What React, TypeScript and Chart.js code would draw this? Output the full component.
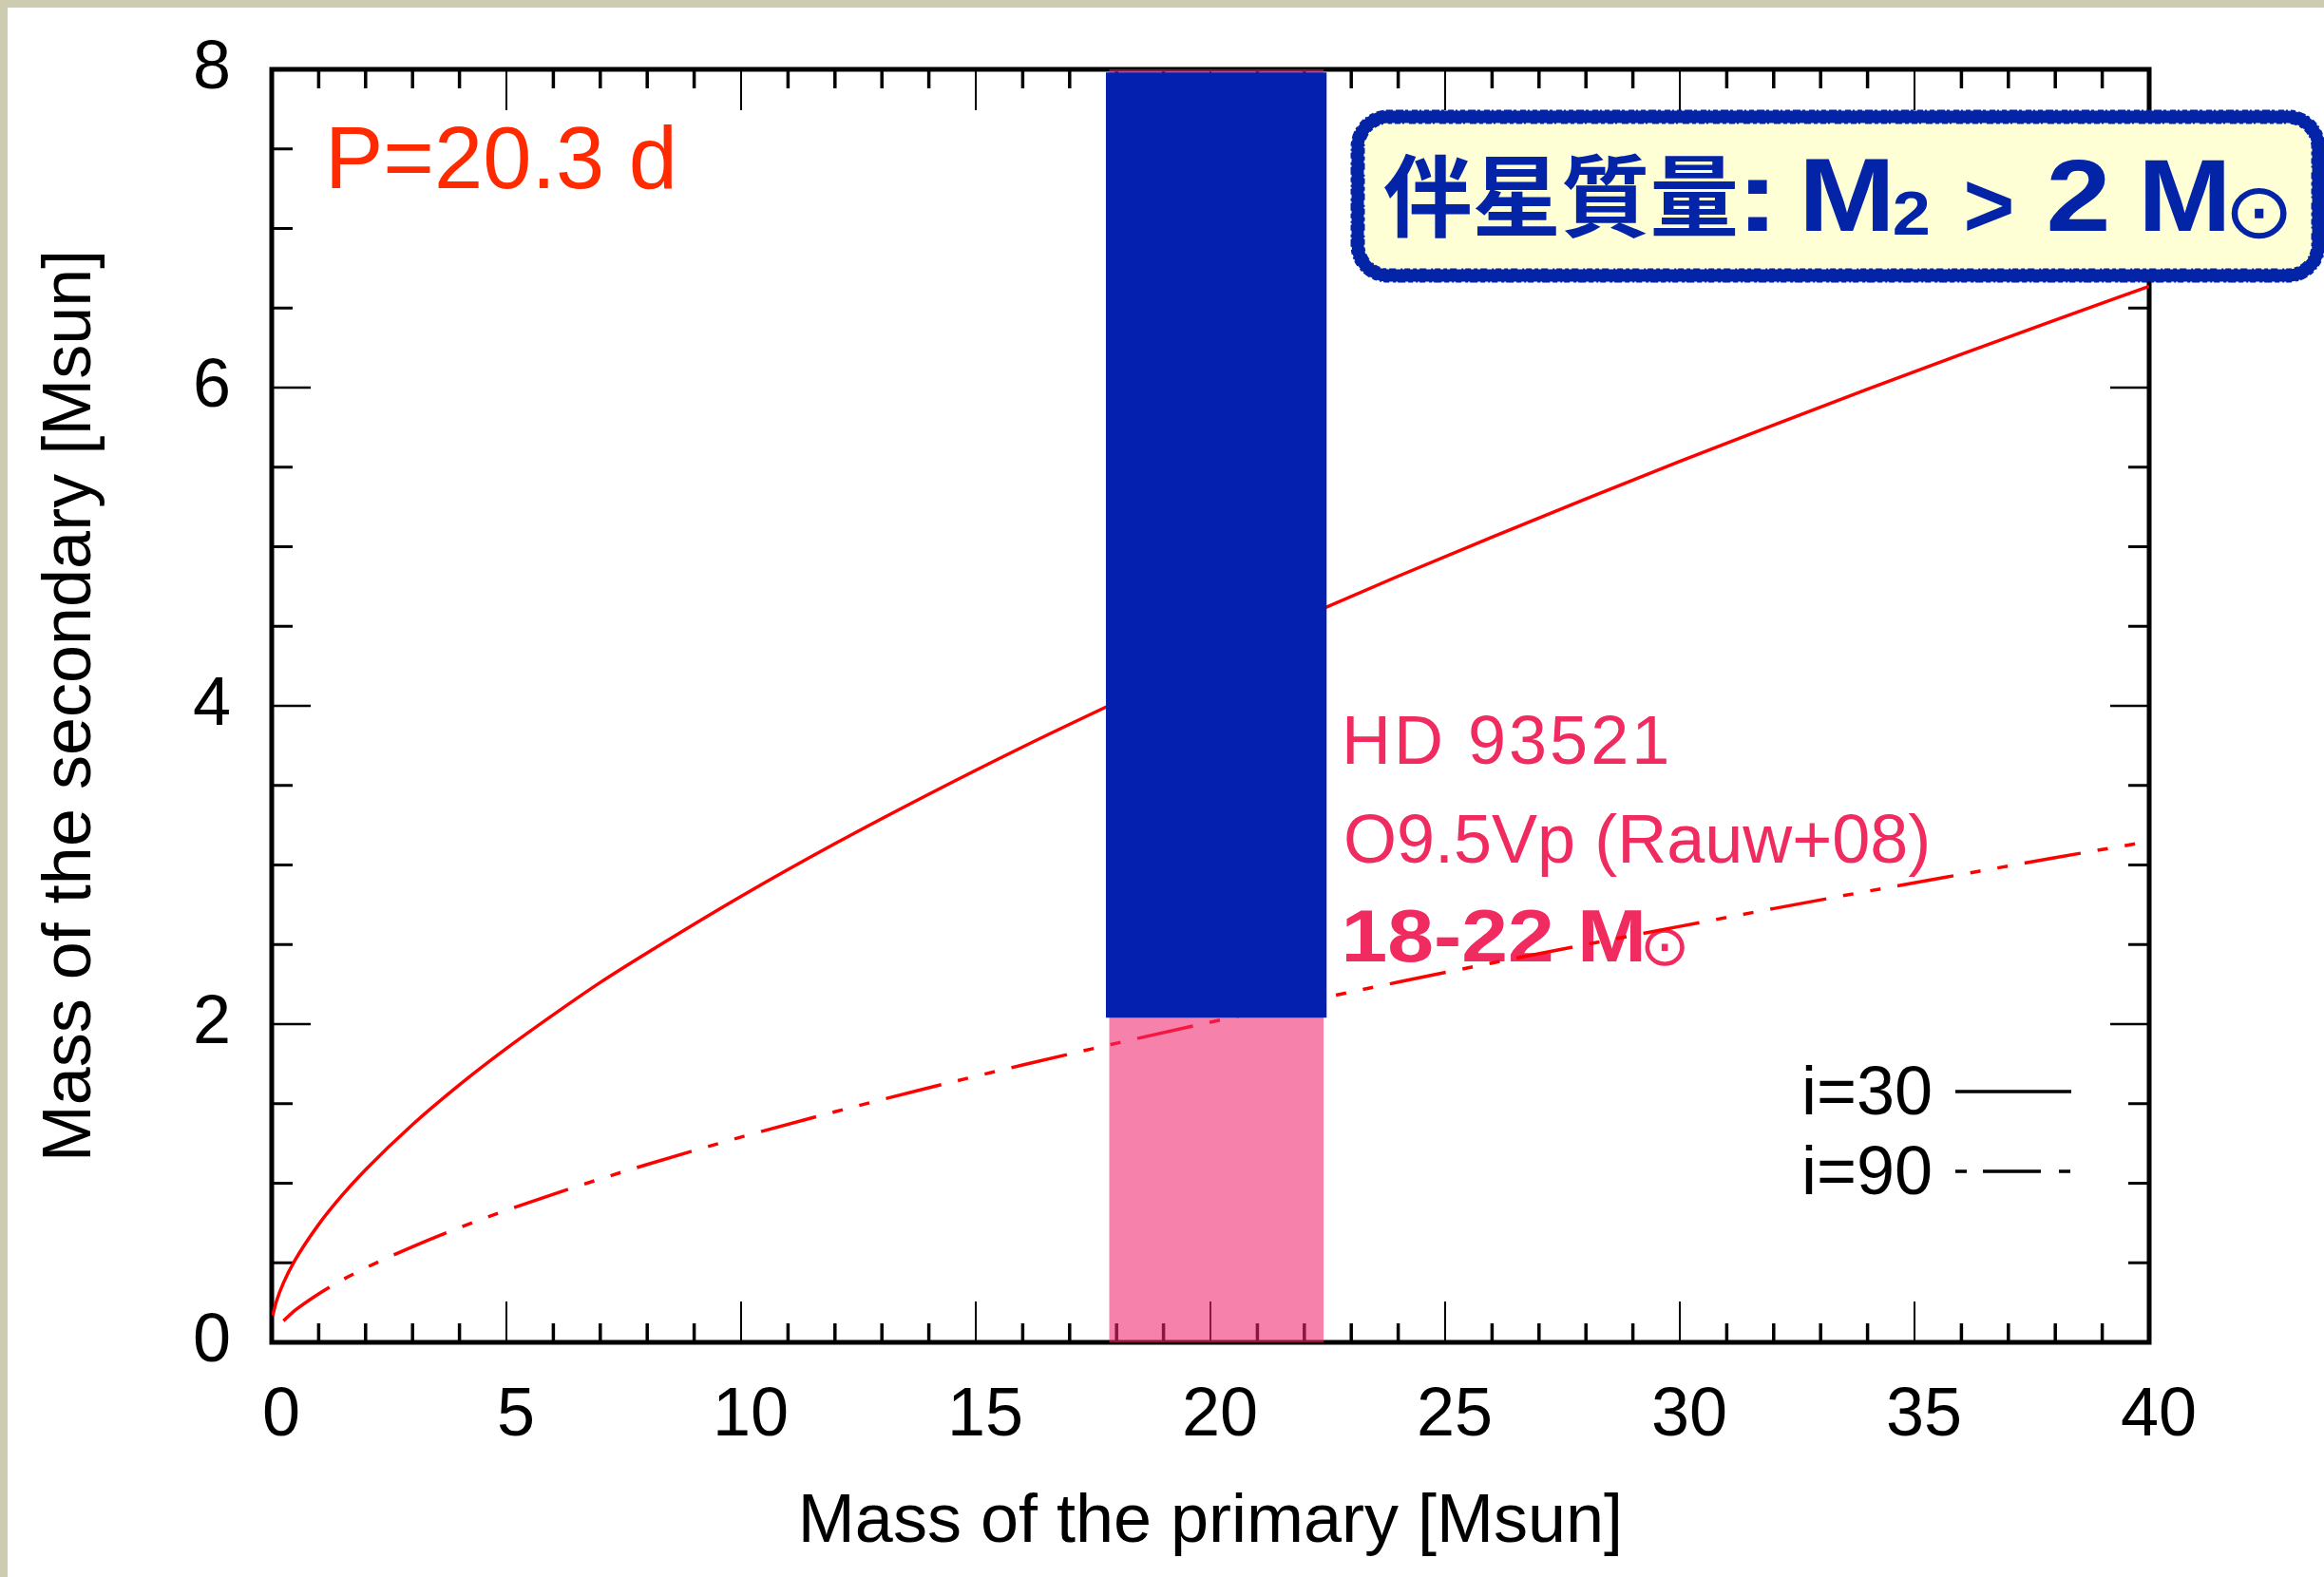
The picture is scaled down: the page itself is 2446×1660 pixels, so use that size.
import React, { useEffect, useRef } from "react";
import { Chart, registerables } from "chart.js";

Chart.register(...registerables);

// ---------- data ----------
const X_TICKS = [0, 5, 10, 15, 20, 25, 30, 35, 40];
const Y_TICKS = [0, 2, 4, 6, 8];

// primary mass [Msun] and secondary mass for i = 30 deg (solid)
const M1_I30 = [0.02, 0.1, 0.25, 0.5, 1, 1.5, 2, 3, 4, 5, 6, 7, 8, 10, 12, 14, 16, 18, 20, 22, 24, 26, 28, 30, 32, 34, 36, 38, 40];
const M2_I30 = [0.168, 0.258, 0.374, 0.518, 0.741, 0.924, 1.085, 1.369, 1.619, 1.847, 2.059, 2.262, 2.448, 2.803, 3.134, 3.445, 3.742, 4.024, 4.298, 4.56, 4.815, 5.061, 5.301, 5.536, 5.765, 5.99, 6.21, 6.425, 6.636];

// primary mass and secondary mass for i = 90 deg (dash-dot-dot)
const M1_I90 = [0.25, 0.5, 1, 1.5, 2, 3, 4, 5, 6, 7, 8, 10, 12, 14, 16, 18, 20, 22, 24, 26, 28, 30, 32, 34, 36, 38, 40];
const M2_I90 = [0.135, 0.202, 0.305, 0.392, 0.468, 0.601, 0.721, 0.83, 0.931, 1.027, 1.118, 1.29, 1.449, 1.6, 1.743, 1.88, 2.012, 2.14, 2.264, 2.384, 2.5, 2.614, 2.726, 2.835, 2.941, 3.046, 3.148];

// HD 93521 primary mass band (pink) and allowed secondary region (blue)
const PINK_X = [17.84, 22.41];
const PINK_Y = [0, 8];
const BLUE_X = [17.77, 22.48];
const BLUE_Y = [2.04, 7.98];

const SERIES_LABELS = ["i=30", "i=90"];

// ---------- helpers ----------
const SANS = '"Liberation Sans", Arial, Helvetica, sans-serif';
const CJK = '"Noto Sans CJK JP", "Noto Sans CJK SC", sans-serif';

function drawInk(ctx: CanvasRenderingContext2D, text: string, font: string, inkLeft: number, baseline: number, spacing = 0) {
  ctx.save();
  ctx.font = font;
  (ctx as any).letterSpacing = spacing + "px";
  ctx.textAlign = "left";
  ctx.textBaseline = "alphabetic";
  const m = ctx.measureText(text);
  ctx.fillText(text, inkLeft + m.actualBoundingBoxLeft, baseline);
  ctx.restore();
}

function drawFit(ctx: CanvasRenderingContext2D, text: string, font: string, l: number, t: number, r: number, b: number) {
  ctx.save();
  ctx.font = font;
  ctx.textAlign = "left";
  ctx.textBaseline = "alphabetic";
  const m = ctx.measureText(text);
  const w = m.actualBoundingBoxLeft + m.actualBoundingBoxRight;
  const h = m.actualBoundingBoxAscent + m.actualBoundingBoxDescent;
  ctx.translate(l, t);
  ctx.scale((r - l) / w, (b - t) / h);
  ctx.fillText(text, m.actualBoundingBoxLeft, m.actualBoundingBoxAscent);
  ctx.restore();
}

function rrPath(ctx: CanvasRenderingContext2D, x: number, y: number, w: number, h: number, r: number) {
  ctx.beginPath();
  ctx.moveTo(x + r, y);
  ctx.lineTo(x + w - r, y);
  ctx.arcTo(x + w, y, x + w, y + r, r);
  ctx.lineTo(x + w, y + h - r);
  ctx.arcTo(x + w, y + h, x + w - r, y + h, r);
  ctx.lineTo(x + r, y + h);
  ctx.arcTo(x, y + h, x, y + h - r, r);
  ctx.lineTo(x, y + r);
  ctx.arcTo(x, y, x + r, y, r);
  ctx.closePath();
}

function line(ctx: CanvasRenderingContext2D, x1: number, y1: number, x2: number, y2: number) {
  ctx.beginPath();
  ctx.moveTo(x1, y1);
  ctx.lineTo(x2, y2);
  ctx.stroke();
}

const framePlugin = {
  id: "frameAndLabels",
  beforeDatasetsDraw(chart: any) {
    const { ctx, chartArea: a, scales } = chart;
    const xs = scales.x;
    const ys = scales.y;
    ctx.save();
    ctx.strokeStyle = "#000";
    ctx.lineCap = "butt";
    // x ticks (minor every 1, major every 5), inward on bottom and top
    for (let v = 1; v < 40; v++) {
      const major = v % 5 === 0;
      const px = xs.getPixelForValue(v);
      const len = major ? 43 : 20;
      ctx.lineWidth = major ? 2 : 3.5;
      line(ctx, px, a.bottom, px, a.bottom - len);
      line(ctx, px, a.top, px, a.top + len);
    }
    // y ticks (minor every 0.5, major every 2), inward on left and right
    for (let i = 1; i < 16; i++) {
      const v = i * 0.5;
      const major = v % 2 === 0;
      const py = ys.getPixelForValue(v);
      const len = major ? 41 : 22;
      ctx.lineWidth = major ? 2.5 : 3;
      line(ctx, a.left, py, a.left + len, py);
      line(ctx, a.right, py, a.right - len, py);
    }
    // frame
    ctx.lineWidth = 5;
    ctx.strokeRect(a.left, a.top, a.right - a.left, a.bottom - a.top);

    // star annotation (under the curves)
    ctx.fillStyle = "#ef2b5f";
    drawInk(ctx, "HD 93521", `72px ${SANS}`, 1409, 796, 3);
    drawInk(ctx, "O9.5Vp (Rauw+08)", `72px ${SANS}`, 1409, 900, 0);
    drawFit(ctx, "18-22 M", `bold 80px ${SANS}`, 1409, 950, 1720, 1005);
    drawFit(ctx, "\u2299", `60px "DejaVu Sans"`, 1723, 969, 1765, 1009);

    // period label
    ctx.fillStyle = "#ff2a00";
    drawInk(ctx, "P=20.3 d", `92px ${SANS}`, 341, 190, 0);
    ctx.restore();
  },
  afterDatasetsDraw(chart: any) {
    const { ctx } = chart;
    ctx.save();
    // legend
    ctx.fillStyle = "#000";
    drawInk(ctx, SERIES_LABELS[0], `72px ${SANS}`, 1892, 1165, 0);
    drawInk(ctx, SERIES_LABELS[1], `72px ${SANS}`, 1892, 1249, 0);
    ctx.strokeStyle = "#000";
    ctx.lineWidth = 3.5;
    line(ctx, 2050, 1141, 2172, 1141);
    ctx.setLineDash([12, 17, 61, 19, 12, 200]);
    line(ctx, 2050, 1225, 2172, 1225);
    ctx.setLineDash([]);

    // callout box
    const bx = 1421, by = 115, bw = 1011, bh = 167, br = 32;
    rrPath(ctx, bx, by, bw, bh, br);
    ctx.fillStyle = "#ffffd6";
    ctx.fill();
    ctx.strokeStyle = "#0424a8";
    ctx.lineWidth = 13;
    ctx.stroke();
    ctx.lineWidth = 3;
    ctx.setLineDash([5, 3, 8, 2, 3, 4, 6, 2, 2, 3]);
    rrPath(ctx, bx - 6, by - 6, bw + 12, bh + 12, br + 6);
    ctx.stroke();
    ctx.setLineDash([4, 3, 6, 2, 2, 5, 7, 3]);
    rrPath(ctx, bx + 6, by + 6, bw - 12, bh - 12, br - 6);
    ctx.stroke();
    ctx.setLineDash([]);

    ctx.fillStyle = "#0424a8";
    drawFit(ctx, "伴星質量", `bold 96px ${CJK}`, 1449, 154, 1819, 244);
    drawFit(ctx, ":", `bold 104px ${SANS}`, 1832, 181, 1852, 235);
    drawFit(ctx, "M", `bold 104px ${SANS}`, 1892, 159, 1979, 235);
    drawFit(ctx, "2", `bold 64px ${SANS}`, 1986, 192, 2022, 239);
    drawFit(ctx, ">", `bold 104px ${SANS}`, 2062, 182, 2109, 235);
    drawFit(ctx, "2", `bold 104px ${SANS}`, 2149, 160, 2209, 235);
    drawFit(ctx, "M", `bold 104px ${SANS}`, 2249, 160, 2333, 235);
    drawFit(ctx, "\u2299", `60px "DejaVu Sans"`, 2340, 189, 2399, 243);
    ctx.restore();
  },
};

function rectPoints(xr: number[], yr: number[]) {
  return [
    { x: xr[0], y: yr[0] },
    { x: xr[0], y: yr[1] },
    { x: xr[1], y: yr[1] },
    { x: xr[1], y: yr[0] },
  ];
}

function zeroPad(s: any) {
  s.paddingTop = 0;
  s.paddingBottom = 0;
  s.paddingLeft = 0;
  s.paddingRight = 0;
}

export default function App() {
  const ref = useRef<HTMLCanvasElement | null>(null);

  useEffect(() => {
    if (!ref.current) return;
    const tickFont = { family: SANS, size: 72 };
    const chart = new Chart(ref.current, {
      type: "line",
      data: {
        datasets: [
          {
            label: SERIES_LABELS[0],
            data: M1_I30.map((x, i) => ({ x, y: M2_I30[i] })),
            borderColor: "#ff0000",
            borderWidth: 3.5,
            pointRadius: 0,
            fill: false,
            cubicInterpolationMode: "monotone",
            order: 3,
          },
          {
            label: SERIES_LABELS[1],
            data: M1_I90.map((x, i) => ({ x, y: M2_I90[i] })),
            borderColor: "#ff0000",
            borderWidth: 3.5,
            borderDash: [60, 18, 11, 18, 11, 18],
            pointRadius: 0,
            fill: false,
            cubicInterpolationMode: "monotone",
            order: 2,
          },
          {
            label: "primary mass range",
            data: rectPoints(PINK_X, PINK_Y),
            borderColor: "transparent",
            borderWidth: 0,
            pointRadius: 0,
            backgroundColor: "rgba(240,40,110,0.58)",
            fill: "origin",
            tension: 0,
            order: 1,
          },
          {
            label: "secondary mass region",
            data: rectPoints(BLUE_X, BLUE_Y),
            borderColor: "transparent",
            borderWidth: 0,
            pointRadius: 0,
            backgroundColor: "#0320ae",
            fill: { value: BLUE_Y[0] },
            tension: 0,
            order: 0,
          },
        ],
      },
      options: {
        animation: false,
        responsive: false,
        devicePixelRatio: 1,
        layout: { padding: { left: 0, top: 65, right: 184, bottom: 0 } },
        plugins: {
          legend: { display: false },
          tooltip: { enabled: false },
        },
        scales: {
          x: {
            type: "linear",
            min: X_TICKS[0],
            max: X_TICKS[X_TICKS.length - 1],
            afterFit: (s: any) => {
              s.height = 247;
              zeroPad(s);
            },
            afterBuildTicks: (s: any) => {
              s.ticks = X_TICKS.map((v) => ({ value: v }));
            },
            ticks: {
              font: tickFont,
              color: "#000",
              padding: 35,
              labelOffset: 10,
              maxRotation: 0,
              autoSkip: false,
            },
            grid: { display: false, drawTicks: false },
            border: { display: false },
            title: {
              display: true,
              text: "Mass of the primary [Msun]",
              font: tickFont,
              color: "#000",
              padding: { top: 0, bottom: 14 },
            },
          },
          y: {
            type: "linear",
            min: Y_TICKS[0],
            max: Y_TICKS[Y_TICKS.length - 1],
            afterFit: (s: any) => {
              s.width = 278;
              zeroPad(s);
            },
            afterBuildTicks: (s: any) => {
              s.ticks = Y_TICKS.map((v) => ({ value: v }));
            },
            ticks: {
              font: tickFont,
              color: "#000",
              padding: 43,
              autoSkip: false,
            },
            grid: { display: false, drawTicks: false },
            border: { display: false },
            title: {
              display: true,
              text: "Mass of the secondary [Msun]",
              font: tickFont,
              color: "#000",
              padding: { top: 24, bottom: 0 },
            },
          },
        },
      },
      plugins: [framePlugin],
    } as any);
    return () => chart.destroy();
  }, []);

  return (
    <div
      style={{
        position: "fixed",
        left: 0,
        top: 0,
        width: "100vw",
        height: "100vh",
        overflow: "hidden",
        background: "#cdcbb0",
      }}
    >
      <canvas
        ref={ref}
        width={2438}
        height={1652}
        style={{ position: "absolute", left: 8, top: 8, width: 2438, height: 1652, background: "#fff" }}
      />
    </div>
  );
}
